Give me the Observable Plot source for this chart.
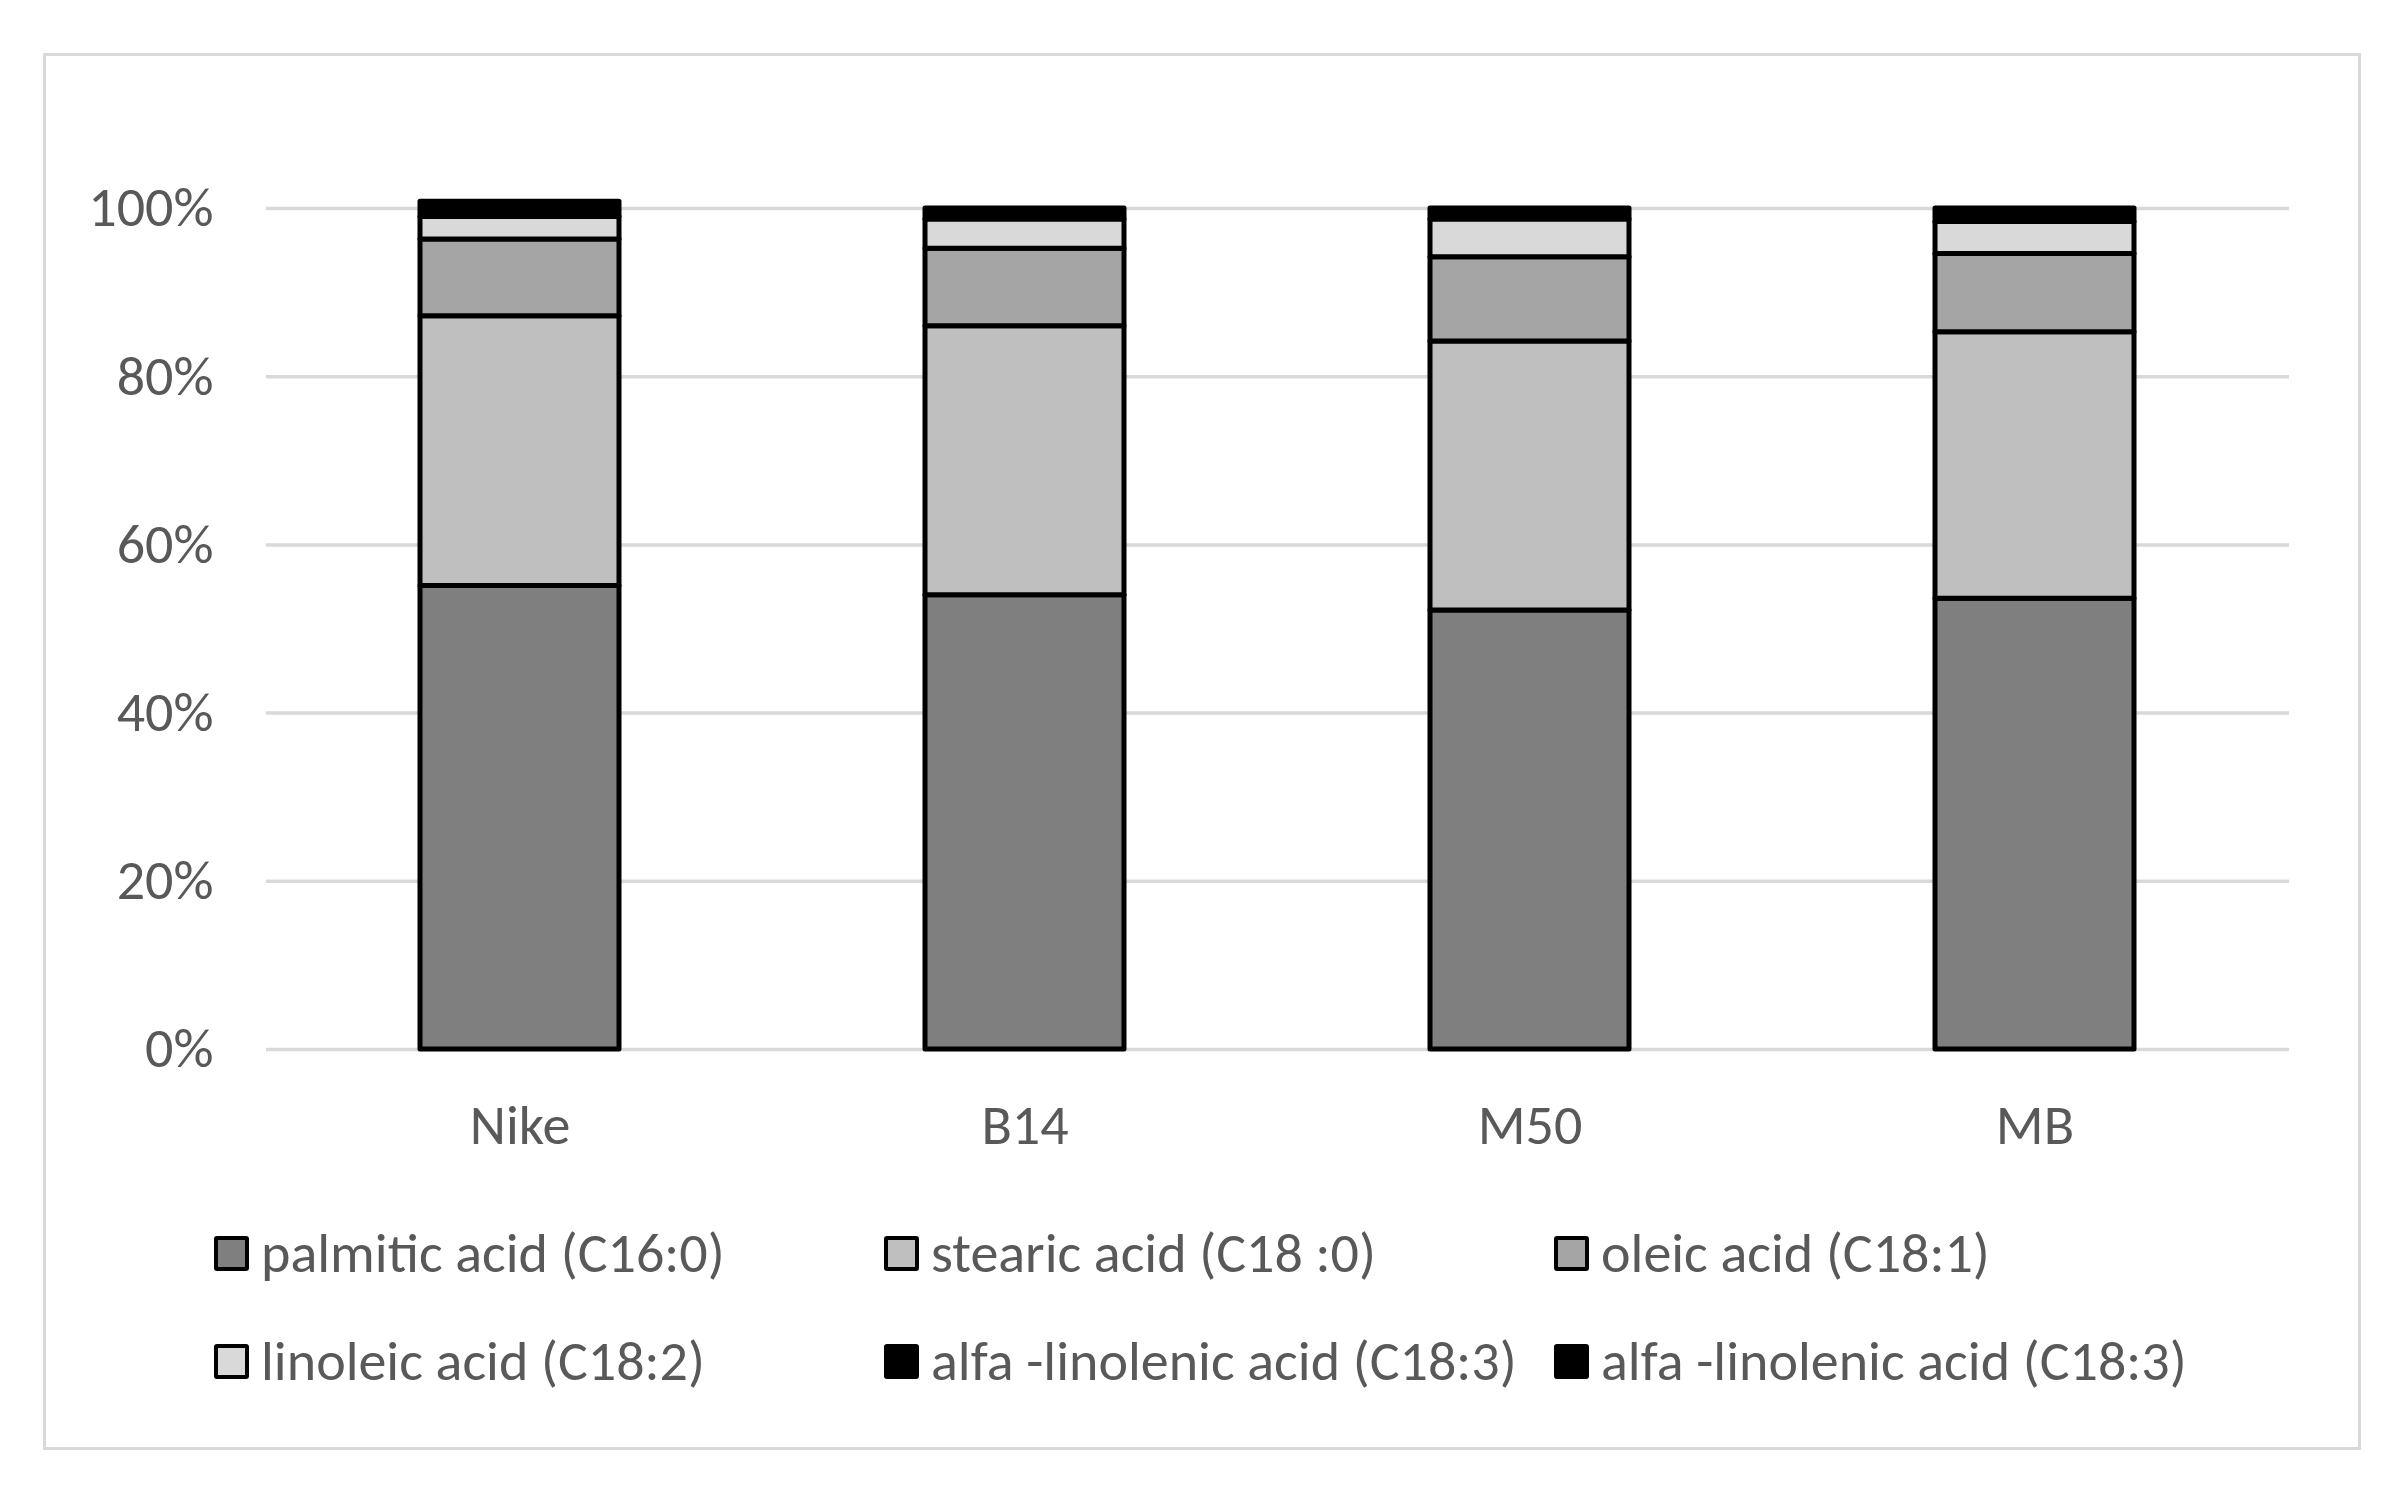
<!DOCTYPE html>
<html>
<head>
<meta charset="utf-8">
<script src="https://cdn.jsdelivr.net/npm/d3@7"></script>
<script src="https://cdn.jsdelivr.net/npm/@observablehq/plot@0.6"></script>
<style>
  html, body { margin: 0; padding: 0; background: #fff; }
  body { width: 2400px; height: 1493px; position: relative; overflow: hidden;
         font-family: Carlito, "Liberation Sans Narrow", "DejaVu Sans Condensed", Lato, sans-serif; }
  #frame { position: absolute; left: 43px; top: 53px; width: 2318px; height: 1397px;
           border: 3px solid #d9d9d9; box-sizing: border-box; }
  #chart { position: absolute; left: 0; top: 0; }
  .item { position: absolute; height: 80px; display: flex; align-items: center; white-space: nowrap; }
  .sw { width: 27px; height: 27px; border: 4px solid #000; border-radius: 3px; flex: none; }
  .lbl { font-size: 56px; color: #595959; margin-left: 12px; line-height: 1; }
</style>
</head>
<body>
<div id="frame"></div>
<div id="chart"></div>
<div id="legend"></div>
<script>
// Categories
const samples = ["Nike", "B14", "M50", "MB"];
// Series names (legend order, bottom to top in the stack)
const acids = [
  "palmitic acid (C16:0)",
  "stearic acid (C18 :0)",
  "oleic acid (C18:1)",
  "linoleic acid (C18:2)",
  "alfa -linolenic acid (C18:3)",
  "alfa -linolenic acid (C18:3)"
];
const fills = ["#7f7f7f", "#bfbfbf", "#a5a5a5", "#d9d9d9", "#000000", "#000000"];
// Series values (% of total fatty acids), in sample order
const palmitic  = [55.1, 54.0, 52.2, 53.6];
const stearic   = [32.1, 32.0, 32.0, 31.7];
const oleic     = [9.1, 9.2, 10.0, 9.3];
const linoleic  = [2.7, 3.5, 4.5, 3.8];
const alfa      = [1.8, 1.3, 1.3, 1.6];
const alfa2     = [0, 0, 0, 0];
const series = [palmitic, stearic, oleic, linoleic, alfa, alfa2];
// Tick values
const yTicks = [0, 20, 40, 60, 80, 100];

const rows = [];
series.forEach((vals, k) => {
  samples.forEach((s, i) => {
    if (vals[i] > 0) rows.push({sample: s, k, value: vals[i]});
  });
});

const FONT = 'Carlito, "Liberation Sans Narrow", "DejaVu Sans Condensed", Lato, sans-serif';

const chart = Plot.plot({
  width: 2400,
  height: 1180,
  marginLeft: 266,
  marginRight: 111,
  marginTop: 208,
  marginBottom: 131,
  style: {fontFamily: FONT, fontSize: "56px", color: "#595959", background: "transparent", overflow: "visible"},
  x: {domain: samples, paddingInner: 0.605, paddingOuter: 0.3025, label: null},
  y: {domain: [0, 100], label: null},
  color: {type: "ordinal", domain: d3.range(acids.length), range: fills},
  marks: [
    Plot.ruleY(yTicks, {stroke: "#d9d9d9", strokeWidth: 3.5}),
    Plot.barY(rows, {x: "sample", y: "value", z: "k", fill: "k", stroke: "#000", strokeWidth: 5, strokeLinejoin: "round"}),
    Plot.axisY({ticks: yTicks, tickFormat: d => d + "%", tickSize: 0, tickPadding: 53, label: null, fill: "#595959"}),
    Plot.axisX({tickSize: 0, tickPadding: 55, label: null, fill: "#595959"})
  ]
});
document.getElementById("chart").appendChild(chart);

// Legend (HTML, below the SVG)
const legend = document.getElementById("legend");
const colX = [214, 884, 1554];
const rowY = [1253, 1361];
acids.forEach((name, k) => {
  const item = document.createElement("div");
  item.className = "item";
  item.style.left = colX[k % 3] + "px";
  item.style.top = (rowY[Math.floor(k / 3)] - 40) + "px";
  const sw = document.createElement("div");
  sw.className = "sw";
  sw.style.background = fills[k];
  const lbl = document.createElement("span");
  lbl.className = "lbl";
  lbl.textContent = name;
  item.appendChild(sw);
  item.appendChild(lbl);
  legend.appendChild(item);
});
</script>
</body>
</html>
